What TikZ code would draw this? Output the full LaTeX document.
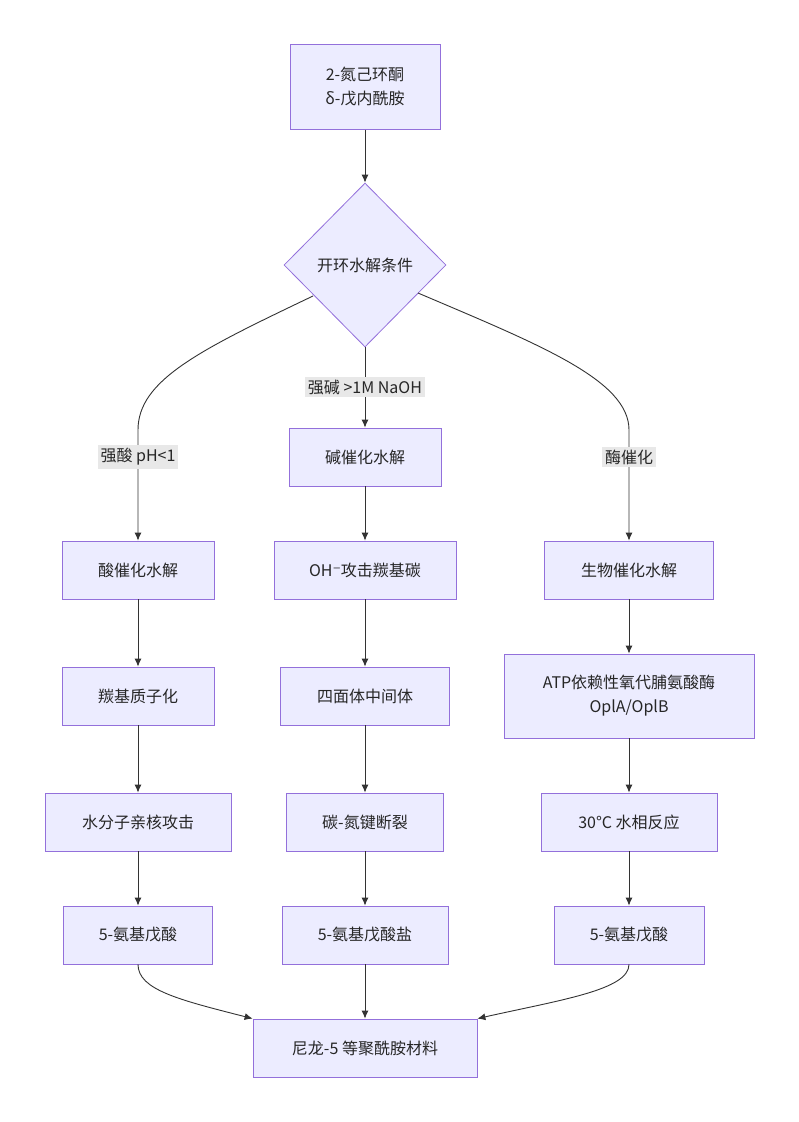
\documentclass[tikz,border=0pt]{standalone}
\usepackage{fontspec}
\setmainfont{Noto Sans CJK SC}
\newfontfamily\djv{DejaVu Sans}
\usetikzlibrary{shapes.geometric,arrows.meta}
\definecolor{nf}{HTML}{ECECFF}
\definecolor{ns}{HTML}{9370DB}
\definecolor{lb}{HTML}{E8E8E8}
\definecolor{ed}{HTML}{333333}
\begin{document}
\begin{tikzpicture}[x=1pt,y=-1pt,
  box/.style={draw=ns,fill=nf,line width=0.8pt,rectangle,minimum height=58pt,align=center,font=\fontsize{16}{24}\selectfont,text=black!85},
  lab/.style={fill=lb,inner sep=3pt,font=\fontsize{16}{20}\selectfont,text=black!85},
  e/.style={draw=ed,line width=0.9pt,-{Latex[length=8pt,width=7pt]}}]
\useasboundingbox (0,0) rectangle (799,1122);
\node[box,minimum width=150pt,minimum height=85pt] (a) at (365,87) {2-氮己环酮\\δ-戊内酰胺};
\node[draw=ns,fill=nf,line width=0.8pt,diamond,minimum width=162pt,minimum height=164pt,inner sep=0pt,font=\fontsize{16}{20}\selectfont,text=black!85] (d) at (365,265) {开环水解条件};
\node[box,minimum width=152pt] (b1) at (365,457) {碱催化水解};
\node[box,minimum width=152pt] (l1) at (138,570) {酸催化水解};
\node[box,minimum width=182pt] (m1) at (365,570) {OH{\djv ⁻}攻击羰基碳};
\node[box,minimum width=169pt] (r1) at (629,570) {生物催化水解};
\node[box,minimum width=152pt] (l2) at (138,696) {羰基质子化};
\node[box,minimum width=169pt] (m2) at (365,696) {四面体中间体};
\node[box,minimum width=250pt,minimum height=84pt] (r2) at (629,696) {ATP依赖性氧代脯氨酸酶\\OplA/OplB};
\node[box,minimum width=186pt] (l3) at (138,822) {水分子亲核攻击};
\node[box,minimum width=157pt] (m3) at (365,822) {碳-氮键断裂};
\node[box,minimum width=176pt] (r3) at (629,822) {30°C 水相反应};
\node[box,minimum width=149pt] (l4) at (138,935) {5-氨基戊酸};
\node[box,minimum width=166pt] (m4) at (365,935) {5-氨基戊酸盐};
\node[box,minimum width=150pt] (r4) at (629,935) {5-氨基戊酸};
\node[box,minimum width=224pt] (n) at (365,1048) {尼龙-5 等聚酰胺材料};
\draw[e] (a) -- (d);
\draw[e] (d.south) -- (b1);
\node[lab] (t1) at (365,387) {强碱 >1M NaOH};
\draw[e] (313,296) .. controls (200,350) and (138,380) .. (138,430) -- (l1.north);
\node[lab] (t2) at (138,457) {强酸 pH<1};
\draw[e] (418,293) .. controls (540,345) and (629,380) .. (629,430) -- (r1.north);
\node[lab] (t3) at (629,457) {酶催化};
\draw[e] (l1) -- (l2); \draw[e] (l2) -- (l3); \draw[e] (l3) -- (l4);
\draw[e] (m1) -- (m2); \draw[e] (m2) -- (m3); \draw[e] (m3) -- (m4);
\draw[e] (r1) -- (r2); \draw[e] (r2) -- (r3); \draw[e] (r3) -- (r4);
\draw[e] (b1) -- (m1);
\draw[e] (m4) -- (n);
\draw[e] (l4.south) .. controls (138,990) and (180,1000) .. (n.north west);
\draw[e] (r4.south) .. controls (629,990) and (560,1000) .. (n.north east);
\end{tikzpicture}
\end{document}
